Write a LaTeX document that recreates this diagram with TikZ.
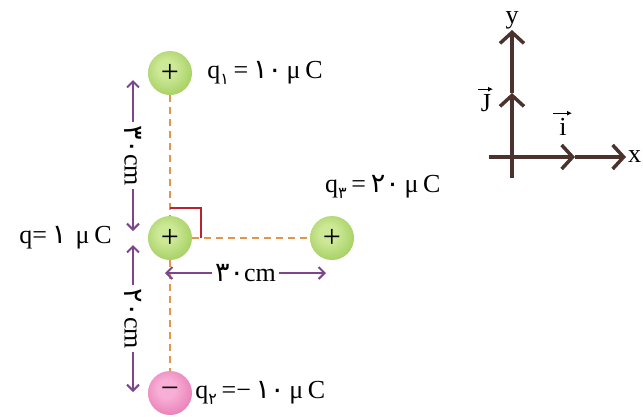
\documentclass[tikz,border=0pt]{standalone}
\usepackage{fontspec}
\setmainfont{Liberation Serif}
\newfontfamily\fa[Script=Arabic]{DejaVu Sans}
\usepackage{tikz}
\usetikzlibrary{arrows.meta, positioning, calc}
\definecolor{ballgreen}{RGB}{120, 180, 40}
\definecolor{ballgreenlight}{RGB}{205, 232, 150}
\definecolor{ballpink}{RGB}{215, 75, 145}
\definecolor{ballpinklight}{RGB}{248, 175, 215}
\definecolor{dimpurple}{RGB}{125, 70, 140}
\definecolor{guideorange}{RGB}{225, 150, 75}
\definecolor{anglered}{RGB}{185, 35, 45}
\definecolor{axisbrown}{RGB}{75, 50, 45}
\pgfdeclareradialshading{greenball}{\pgfpoint{-5bp}{6bp}}{color(0bp)=(ballgreenlight); color(10bp)=(ballgreenlight); color(52bp)=(ballgreen); color(60bp)=(ballgreen)}
\pgfdeclareradialshading{pinkball}{\pgfpoint{-5bp}{6bp}}{color(0bp)=(ballpinklight); color(10bp)=(ballpinklight); color(52bp)=(ballpink); color(60bp)=(ballpink)}
\newcommand{\fd}[1]{{\fontsize{27}{27}\selectfont\fa #1}}
\newcommand{\qsub}[1]{q\raisebox{-0.45ex}{\fontsize{16}{16}\selectfont\fa #1}}
\newcommand{\gap}{\hspace{0.18em}}

\begin{document}
\begin{tikzpicture}[
    x=1pt, y=1pt,
    charge/.style={circle, minimum size=44pt, inner sep=0pt, font=\fontsize{32}{32}\selectfont},
    poscharge/.style={charge, shading=greenball},
    negcharge/.style={charge, shading=pinkball},
    lbl/.style={inner sep=0pt, font=\fontsize{26}{28}\selectfont},
    guide/.style={draw=guideorange, line width=2pt, dash pattern=on 7pt off 5pt},
    dim/.style={draw=dimpurple, line width=2pt, {Straight Barb[length=6pt,width=12pt]}-{Straight Barb[length=6pt,width=12pt]}},
    dimlbl/.style={fill=white, inner sep=3pt, font=\fontsize{26}{28}\selectfont},
    axis/.style={draw=axisbrown, line width=3.5pt, -{Straight Barb[length=11pt,width=24pt]}},
    vecarrow/.style={draw=black, line width=1.2pt, -{Latex[length=5pt,width=5pt]}}
]
\useasboundingbox (0,0) rectangle (643,-416);

% charges
\node[poscharge] (q1) at (170,-73) {+};
\node[poscharge] (q0) at (170,-238) {+};
\node[poscharge] (q3) at (332,-238) {+};
\node[negcharge] (q2) at (170,-393) {−};

\node[lbl, right=15pt of q1] (l1) {\qsub{۱}\gap=\gap\fd{۱۰}\gap μ\gap C};
\node[lbl, anchor=west] (l3) at (325,-187) {\qsub{۳}\gap=\gap\fd{۲۰}\gap μ\gap C};
\node[lbl, left=36pt of q0] (l0) {q=\gap\fd{۱}\gap\gap μ\gap C};
\node[lbl, right=3pt of q2] (l2) {\qsub{۲}\gap=−\gap\fd{۱۰}\gap μ\gap C};

% dashed guides and right angle
\draw[guide] (q1) -- (q0);
\draw[guide] (q0) -- (q2);
\draw[guide] (q0) -- (q3);
\draw[anglered, line width=1.8pt] ($(q0.center)+(0,30)$) -| ($(q0.center)+(31,0)$);

% distances
\coordinate (a1) at (133,-80);
\coordinate (a2) at (133,-231);
\coordinate (a3) at (133,-245);
\coordinate (a4) at (133,-392);
\coordinate (h1) at (165,-273);
\coordinate (h2) at (326,-273);
\draw[dim] (a1) -- node[dimlbl, rotate=-90] {\fd{۳۰}cm} (a2);
\draw[dim] (a3) -- node[dimlbl, rotate=-90] {\fd{۲۰}cm} (a4);
\draw[dim] (h1) -- node[dimlbl] {\fd{۳۰}cm} (h2);

% unit vectors
\coordinate (xs) at (489,-157);
\coordinate (xm) at (575,-157);
\coordinate (xe) at (626,-157);
\coordinate (ys) at (512,-178);
\coordinate (ym) at (512,-93);
\coordinate (ye) at (512,-30);
\draw[axis] (xs) -- (xm);
\draw[axis] (xm) -- (xe);
\draw[axis] (ys) -- (ym);
\draw[axis] (ym) -- (ye);
\node[lbl, right=2pt of xe] (xl) {x};
\node[lbl, above=1pt of ye] (yl) {y};
\node[lbl] (jl) at (486,-103) {J};
\node[lbl] (il) at (563,-127) {i};
\draw[vecarrow] ([xshift=-8pt, yshift=5pt]jl.north) -- ([xshift=7pt, yshift=5pt]jl.north);
\draw[vecarrow] ([xshift=-10pt, yshift=5pt]il.north) -- ([xshift=9pt, yshift=5pt]il.north);

\end{tikzpicture}
\end{document}
